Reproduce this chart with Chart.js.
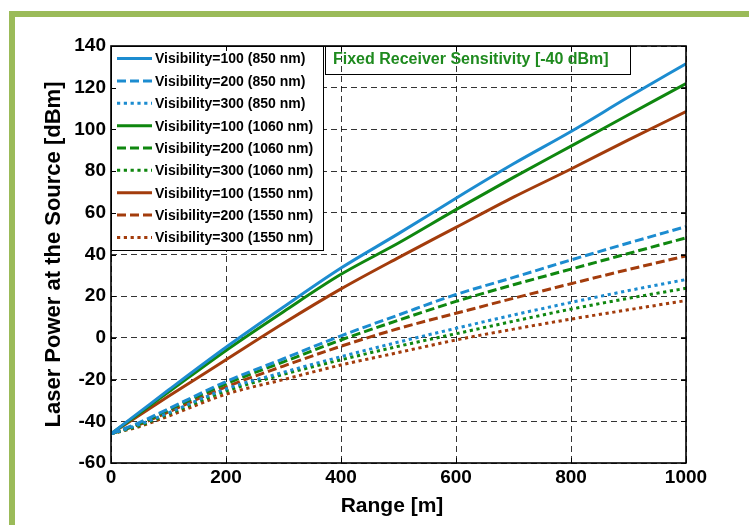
<!DOCTYPE html>
<html>
<head>
<meta charset="utf-8">
<script src="https://cdn.jsdelivr.net/npm/chart.js@4.4.1/dist/chart.umd.min.js"></script>
<style>
  html, body { margin: 0; padding: 0; background: #fff; }
  #wrap { position: relative; width: 749px; height: 525px; overflow: hidden; }
  #frame {
    position: absolute; left: 9px; top: 11px; width: 800px; height: 600px;
    border-top: 6px solid #9bbb59; border-left: 6px solid #9bbb59;
  }
  #chart { position: absolute; left: 0; top: 0; }
</style>
</head>
<body>
<div id="wrap">
  <div id="frame"></div>
  <canvas id="chart" width="749" height="525"></canvas>
</div>
<script>
// range in metres
const ranges = [0, 50, 100, 200, 300, 400, 500, 600, 700, 800, 900, 1000];

// laser power at the source [dBm]
const vis100_850  = [-46, -35.5, -25, -4.5, 14.8, 33.5, 50, 67, 83.5, 99, 115.5, 131.5];
const vis200_850  = [-46, -40.5, -34, -21, -10, 1, 11, 20.8, 29, 37.4, 45.5, 53.4];
const vis300_850  = [-46, -41.5, -36, -24.5, -16.5, -9, -2, 4.6, 11, 17, 22.7, 28];
const vis100_1060 = [-46, -36, -26, -6, 12.6, 30.5, 45.5, 61.5, 77, 92, 107, 122];
const vis200_1060 = [-46, -41, -34.5, -22, -11.5, -1, 8.5, 17.5, 25.5, 33, 40.5, 48];
const vis300_1060 = [-46, -42, -36.5, -25.5, -17.5, -10.5, -4, 2, 8, 13.8, 19, 23.8];
const vis100_1550 = [-46, -37, -28, -10.5, 7, 23.5, 38.5, 53, 67.5, 81, 95, 108.5];
const vis200_1550 = [-46, -41.5, -35.5, -23.5, -13.5, -4, 4.5, 11.8, 19, 26, 32.8, 39.3];
const vis300_1550 = [-46, -42.5, -37.5, -27, -20, -13, -7, -1, 4.2, 9, 13.5, 17.9];

const xTicks = [0, 200, 400, 600, 800, 1000];
const yTicks = [-60, -40, -20, 0, 20, 40, 60, 80, 100, 120, 140];

const BLUE = '#1c8cd0', GREEN = '#0f870f', BROWN = '#a33c0c';
const SOLID = [], DASH = [9, 4], DOT = [3.2, 3.6];

const pts = vals => vals.map((v, i) => ({ x: ranges[i], y: v }));
const series = (label, vals, color, dash) => ({
  label, data: pts(vals), borderColor: color, backgroundColor: color,
  borderDash: dash, borderWidth: 3, pointRadius: 0,
  cubicInterpolationMode: 'monotone', fill: false
});

const datasets = [
  series('Visibility=100 (850 nm)', vis100_850, BLUE, SOLID),
  series('Visibility=200 (850 nm)', vis200_850, BLUE, DASH),
  series('Visibility=300 (850 nm)', vis300_850, BLUE, DOT),
  series('Visibility=100 (1060 nm)', vis100_1060, GREEN, SOLID),
  series('Visibility=200 (1060 nm)', vis200_1060, GREEN, DASH),
  series('Visibility=300 (1060 nm)', vis300_1060, GREEN, DOT),
  series('Visibility=100 (1550 nm)', vis100_1550, BROWN, SOLID),
  series('Visibility=200 (1550 nm)', vis200_1550, BROWN, DASH),
  series('Visibility=300 (1550 nm)', vis300_1550, BROWN, DOT),
];

const FONT = '"Liberation Sans", Arial, sans-serif';
Chart.defaults.font.family = FONT;
Chart.defaults.color = '#000';

// legend box, annotation, x title, axes frame and inward ticks
const overlay = {
  id: 'overlay',
  afterDraw(chart) {
    const { ctx, chartArea: a, scales: { x, y } } = chart;
    ctx.save();

    // legend
    const lx = a.left, ly = a.top, lw = 212, lh = 204;
    ctx.fillStyle = '#fff';
    ctx.fillRect(lx, ly, lw, lh);
    ctx.strokeStyle = '#000';
    ctx.lineWidth = 1;
    ctx.strokeRect(lx + 0.5, ly + 0.5, lw, lh);
    ctx.font = 'bold 14px ' + FONT;
    ctx.textBaseline = 'middle';
    ctx.textAlign = 'left';
    chart.data.datasets.forEach((ds, i) => {
      const ry = ly + 12.6 + i * 22.35;
      ctx.beginPath();
      ctx.setLineDash(ds.borderDash);
      ctx.strokeStyle = ds.borderColor;
      ctx.lineWidth = 3;
      ctx.moveTo(lx + 6, ry);
      ctx.lineTo(lx + 41, ry);
      ctx.stroke();
      ctx.setLineDash([]);
      ctx.fillStyle = '#000';
      ctx.fillText(ds.label, lx + 44, ry + 1);
    });

    // annotation box
    ctx.strokeStyle = '#000';
    ctx.lineWidth = 1;
    ctx.strokeRect(325.5, a.top + 0.5, 305, 28);
    ctx.fillStyle = '#1e8a1e';
    ctx.font = 'bold 16px ' + FONT;
    ctx.fillText('Fixed Receiver Sensitivity [-40 dBm]', 333, a.top + 14);

    // x axis title
    ctx.fillStyle = '#000';
    ctx.font = 'bold 21px ' + FONT;
    ctx.textAlign = 'center';
    ctx.textBaseline = 'alphabetic';
    ctx.fillText('Range [m]', 392, 512);

    // frame
    ctx.strokeStyle = '#000';
    ctx.lineWidth = 1.6;
    ctx.strokeRect(a.left, a.top, a.right - a.left, a.bottom - a.top);

    // inward ticks on all four sides
    ctx.lineWidth = 1;
    ctx.beginPath();
    xTicks.forEach(v => {
      const px = Math.round(x.getPixelForValue(v)) + 0.5;
      ctx.moveTo(px, a.bottom); ctx.lineTo(px, a.bottom - 5);
      ctx.moveTo(px, a.top); ctx.lineTo(px, a.top + 5);
    });
    yTicks.forEach(v => {
      const py = Math.round(y.getPixelForValue(v)) + 0.5;
      ctx.moveTo(a.left, py); ctx.lineTo(a.left + 5, py);
      ctx.moveTo(a.right, py); ctx.lineTo(a.right - 5, py);
    });
    ctx.stroke();
    ctx.restore();
  }
};

new Chart(document.getElementById('chart'), {
  type: 'line',
  data: { datasets },
  options: {
    responsive: false,
    animation: false,
    layout: { padding: { left: 0, top: 46, right: 63, bottom: 0 } },
    plugins: { legend: { display: false }, tooltip: { enabled: false } },
    scales: {
      x: {
        type: 'linear', min: 0, max: 1000,
        afterBuildTicks: s => { s.ticks = xTicks.map(v => ({ value: v })); },
        afterFit: s => { s.height = 62; },
        ticks: {
          font: { size: 19, weight: 'bold' }, padding: 3, maxRotation: 0,
          callback: v => String(v)
        },
        grid: { color: 'rgba(0,0,0,0.8)', lineWidth: 1, drawTicks: false },
        border: { display: false, dash: [6, 4] }
      },
      y: {
        type: 'linear', min: -60, max: 140,
        afterBuildTicks: s => { s.ticks = yTicks.map(v => ({ value: v })); },
        afterFit: s => { s.width = 111; },
        ticks: { font: { size: 19, weight: 'bold' }, padding: 5, callback: v => String(v) },
        grid: { color: 'rgba(0,0,0,0.8)', lineWidth: 1, drawTicks: false },
        border: { display: false, dash: [6, 4] },
        title: {
          display: true, text: 'Laser Power at the Source [dBm]',
          font: { size: 22, weight: 'bold' }, padding: { top: 41, bottom: 0 }
        }
      }
    }
  },
  plugins: [overlay]
});
</script>
</body>
</html>
